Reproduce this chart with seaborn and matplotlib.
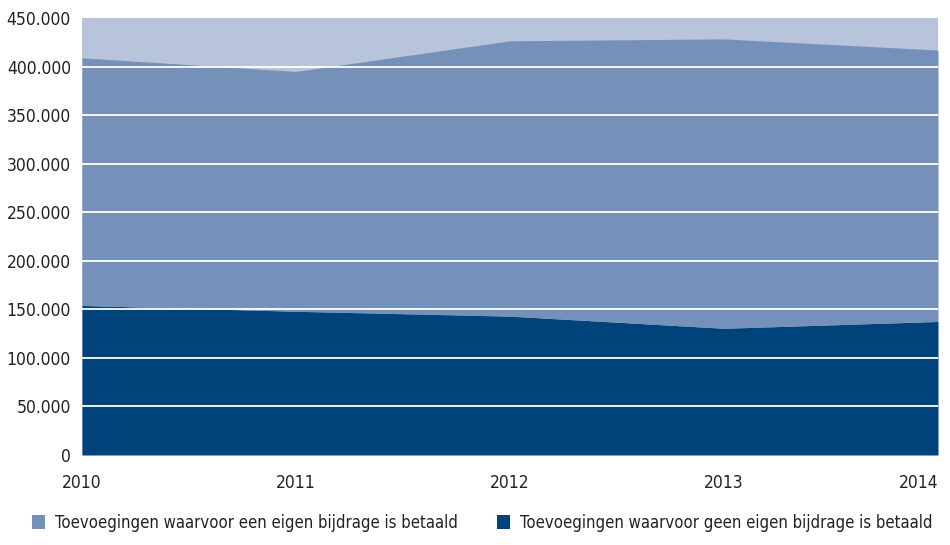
import numpy as np
import matplotlib
matplotlib.use("Agg")
import matplotlib.pyplot as plt
import matplotlib.ticker as mticker
from matplotlib.patches import Patch
import seaborn as sns

# data
years = ["2010", "2011", "2012", "2013", "2014"]
geen_bijdrage = [154000, 148000, 143000, 130500, 137500]
eigen_bijdrage = [255000, 247000, 283500, 298000, 279500]
labels = ["Toevoegingen waarvoor een eigen bijdrage is betaald",
          "Toevoegingen waarvoor geen eigen bijdrage is betaald"]

c_light = "#b8c4dc"
c_mid = "#7591b9"
c_dark = "#00437a"

sns.set_theme(style="white")
plt.rcParams["font.family"] = ["DejaVu Sans"]
plt.rcParams["font.stretch"] = "condensed"

fig = plt.figure(figsize=(9.5, 5.45), dpi=100)
ax = fig.add_axes([82 / 950, 1 - 455 / 545, (938 - 82) / 950, (455 - 18) / 545])

x = np.arange(len(years))
ax.set_facecolor(c_light)
ax.stackplot(x, geen_bijdrage, eigen_bijdrage, colors=[c_dark, c_mid],
             linewidth=0, zorder=1)

ax.set_xlim(0, len(years) - 1)
ax.set_ylim(0, 450000)
ax.set_yticks(np.arange(0, 450001, 50000))
ax.yaxis.set_major_formatter(mticker.FuncFormatter(
    lambda v, p: f"{int(v):,}".replace(",", ".")))
for yv in range(50000, 450000, 50000):
    ax.axhline(yv, color="white", lw=1.3, zorder=2)

ax.set_xticks(x)
ax.set_xticklabels(years)
ax.set_xticks(x[1:-1], minor=True)
ax.tick_params(axis="x", which="major", length=0, pad=14, labelsize=12.5,
               colors="#222222")
ax.tick_params(axis="x", which="minor", length=7, width=1, color="#999999",
               direction="out", bottom=True)
ax.tick_params(axis="y", length=0, pad=8, labelsize=12.5, colors="#222222")
# last year label sits inside the figure edge, as in the reference
ax.get_xticklabels()[-1].set_horizontalalignment("right")
ax.get_xticklabels()[-1].set_x(x[-1])
ax.grid(False)
for s in ax.spines.values():
    s.set_visible(False)

handles = [Patch(facecolor=c_mid, edgecolor="none"),
           Patch(facecolor=c_dark, edgecolor="none")]
fig.legend(handles, labels, loc="lower left", bbox_to_anchor=(17 / 950, -2 / 545),
           ncol=2, frameon=False, fontsize=12, handlelength=0.8, handleheight=0.9,
           handletextpad=0.6, columnspacing=2.3, labelcolor="#222222")

fig.savefig("out.png", dpi=100)
